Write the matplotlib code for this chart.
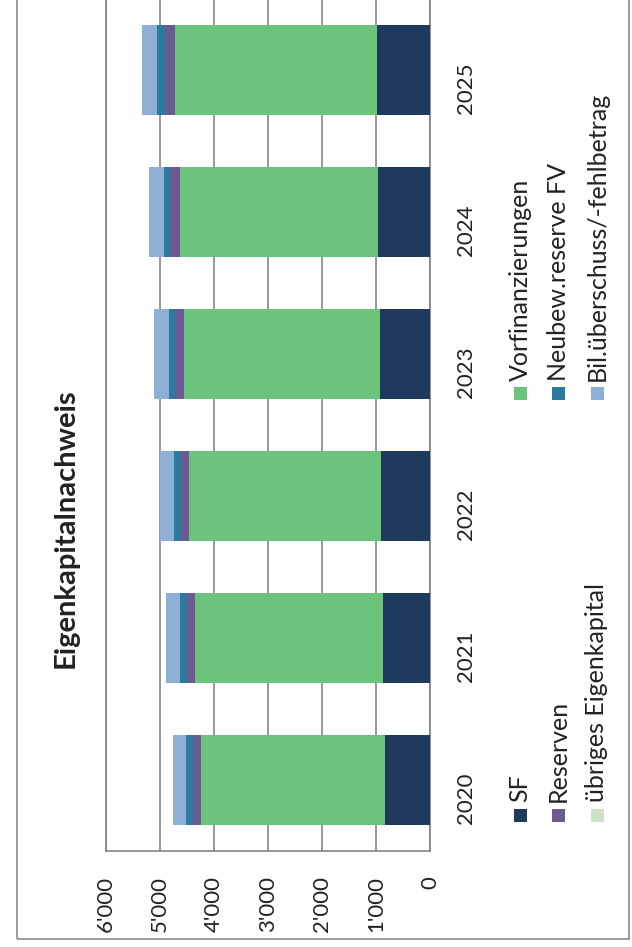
import numpy as np
import matplotlib
matplotlib.use("Agg")
import matplotlib.pyplot as plt
from matplotlib.patches import Rectangle
from matplotlib.ticker import FuncFormatter

plt.rcParams['font.family'] = ['Lato', 'DejaVu Sans']

# Eigenkapitalnachweis, Werte in 1'000
jahre = ['2020', '2021', '2022', '2023', '2024', '2025']
sf = [840, 877, 907, 933, 957, 981]
vorfinanzierungen = [3400, 3480, 3560, 3620, 3680, 3750]
reserven = [140, 150, 140, 160, 170, 185]
neubew_reserve_fv = [130, 125, 135, 125, 125, 135]
uebriges_ek = [0, 0, 0, 0, 0, 0]
bil_ueberschuss = [250, 250, 255, 270, 280, 280]

serien = ['SF', 'Vorfinanzierungen', 'Reserven', 'Neubew.reserve FV',
          'übriges Eigenkapital', 'Bil.überschuss/-fehlbetrag']
werte = [sf, vorfinanzierungen, reserven, neubew_reserve_fv, uebriges_ek, bil_ueberschuss]
farben = ['#1f3a5c', '#6cc47c', '#6b5a92', '#2b7b9e', '#cfe2c8', '#8fb0d6']

W, H = 632, 947
fig = plt.figure(figsize=(W / 100, H / 100), dpi=100)


def px(x, y):
    return x / W, 1 - y / H


# Diagrammbereich (gedreht: Werte laufen von rechts nach links)
ax = fig.add_axes([106 / W, 1 - 851 / H, (430 - 106) / W, 852 / H])
pos = np.arange(len(jahre))
links = np.zeros(len(jahre))
for name, vals, c in zip(serien, werte, farben):
    ax.barh(pos, vals, left=links, height=0.64, color=c, label=name, zorder=3)
    links += np.array(vals)

ax.set_xlim(6000, 0)
ax.set_ylim(-0.5, 5.5)
ax.set_xticks(np.arange(0, 6001, 1000))
ax.xaxis.set_major_formatter(FuncFormatter(lambda v, p: f"{v:,.0f}".replace(",", "'")))
ax.grid(axis='x', color='#7a7a7a', linewidth=1.1, zorder=0)
ax.set_yticks(pos)
ax.set_yticklabels(jahre)
ax.yaxis.tick_right()
ax.tick_params(axis='x', length=0, pad=18, labelsize=16, rotation=90, colors='#222222')
ax.tick_params(axis='y', length=0, pad=19, labelsize=16, rotation=90, colors='#222222')
for s in ax.spines.values():
    s.set_color('#7a7a7a')
    s.set_linewidth(1.1)

# Titel
fig.text(*px(66, 528), 'Eigenkapitalnachweis', rotation=90, ha='center', va='center',
         fontsize=21, fontweight='bold', color='#222222')

# Legende, zwei Spalten, gedreht
zeilen_x = [520, 558, 597]
marker_y = [815, 393]
text_y = [802, 381]
for i, (name, c) in enumerate(zip(serien, farben)):
    r, k = i // 2, i % 2
    x0, y0 = px(zeilen_x[r] - 6.5, marker_y[k] + 6.5)
    fig.patches.append(Rectangle((x0, y0), 13 / W, 13 / H, transform=fig.transFigure,
                                 facecolor=c, edgecolor='none'))
    fig.text(*px(zeilen_x[r], text_y[k]), name, rotation=90, ha='center', va='bottom',
             fontsize=18, color='#222222')

# Rahmen des Diagrammbereichs
x0, y0 = px(17, 939)
fig.patches.append(Rectangle((x0, y0), (629 - 17) / W, 1.0, transform=fig.transFigure,
                             facecolor='none', edgecolor='#8a8a8a', linewidth=1.2))

fig.savefig('out.png', dpi=100)
